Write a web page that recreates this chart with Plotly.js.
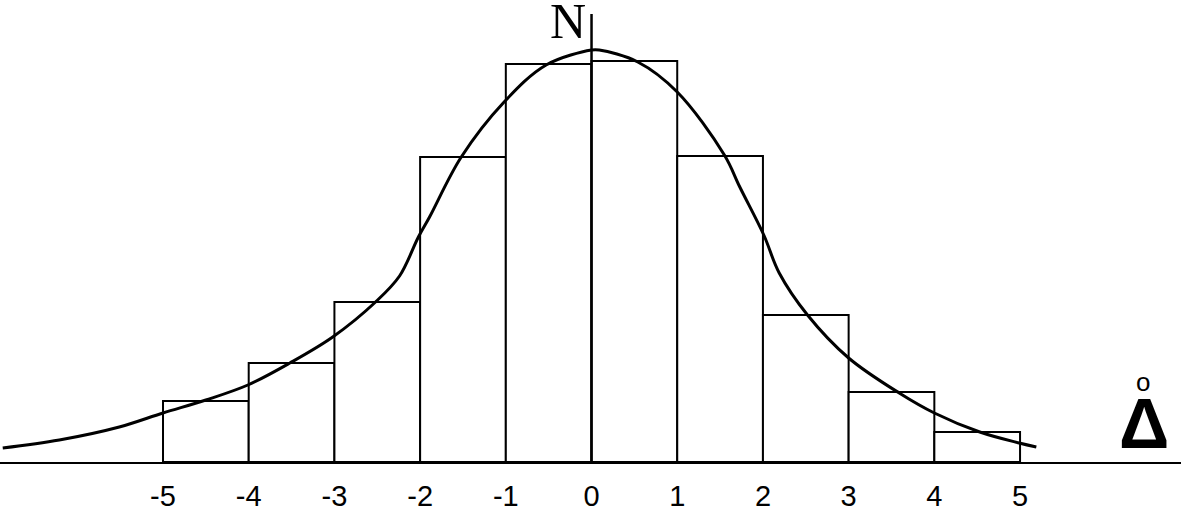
<!DOCTYPE html>
<html>
<head>
<meta charset="utf-8">
<script src="https://cdn.plot.ly/plotly-3.0.1.min.js"></script>
<style>html,body{margin:0;padding:0;background:#fff;}#chart{width:1181px;height:513px;}</style>
</head>
<body>
<div id="chart"></div>
<script>
// Histogram bins (centres) and heights
const binCenters = [-4.5, -3.5, -2.5, -1.5, -0.5, 0.5, 1.5, 2.5, 3.5, 4.5];
const binCounts  = [61, 99, 160, 305, 398, 401, 306, 147, 70, 30];

// Fitted distribution curve
const curveX = [-6.87, -6.21, -5.51, -5.0, -4.5, -4.01, -3.52, -3.02, -2.52, -2.24, -2.02, -1.89, -1.52, -1.02, -0.53, 0.0, 0.09, 0.54, 1.0, 1.55, 1.73, 2.01, 2.19, 2.52, 3.0, 3.59, 4.0, 4.53, 4.99, 5.19];
const curveY = [14, 22, 35, 49, 62, 77, 99, 125, 160, 186, 225, 245, 305, 360, 397, 412, 412, 400, 370, 307, 275, 227, 189, 147, 104, 69, 49, 30, 19, 15];

// Axis tick labels
const tickValues = [-5, -4, -3, -2, -1, 0, 1, 2, 3, 4, 5];
const tickLabels = ['-5', '-4', '-3', '-2', '-1', '0', '1', '2', '3', '4', '5'];

const traces = [
  {
    type: 'bar', x: binCenters, y: binCounts, width: 1,
    marker: {color: '#ffffff', line: {color: '#000000', width: 2}},
    hoverinfo: 'skip', showlegend: false
  },
  {
    type: 'scatter', mode: 'lines', x: curveX, y: curveY,
    line: {color: '#000000', width: 3, shape: 'spline', smoothing: 1},
    hoverinfo: 'skip', showlegend: false
  }
];

const layout = {
  width: 1181, height: 513,
  margin: {l: 0, r: 0, t: 0, b: 51, pad: 0},
  paper_bgcolor: '#ffffff', plot_bgcolor: '#ffffff',
  xaxis: {
    range: [-6.902, 6.878], showgrid: false, zeroline: false,
    showline: true, linecolor: '#000000', linewidth: 2,
    tickmode: 'array', tickvals: tickValues, ticktext: tickLabels,
    ticks: '', ticklabelstandoff: 7,
    tickfont: {family: 'Liberation Sans, Arial, sans-serif', size: 29, color: '#000000'}
  },
  yaxis: {
    range: [0, 462], showgrid: false, zeroline: false, showline: false,
    showticklabels: false, ticks: ''
  },
  shapes: [
    {type: 'line', xref: 'x', yref: 'y', x0: 0, x1: 0, y0: 0, y1: 448,
     line: {color: '#000000', width: 2.5}}
  ],
  annotations: [
    {text: 'N', xref: 'x', yref: 'y', x: -0.27, y: 441, showarrow: false,
     xanchor: 'center', yanchor: 'middle',
     font: {family: 'Liberation Serif, Times New Roman, serif', size: 50, color: '#000000'}},
    {text: 'o', xref: 'x', yref: 'y', x: 6.44, y: 80, showarrow: false,
     xanchor: 'center', yanchor: 'middle',
     font: {family: 'Liberation Sans, Arial, sans-serif', size: 26, color: '#000000'}},
    {text: '<b>Δ</b>', xref: 'x', yref: 'y', x: 6.45, y: 38, showarrow: false,
     xanchor: 'center', yanchor: 'middle',
     font: {family: 'Liberation Sans, Arial, sans-serif', size: 70, color: '#000000'}}
  ],
  showlegend: false
};

Plotly.newPlot('chart', traces, layout, {displayModeBar: false, staticPlot: true});
</script>
</body>
</html>
